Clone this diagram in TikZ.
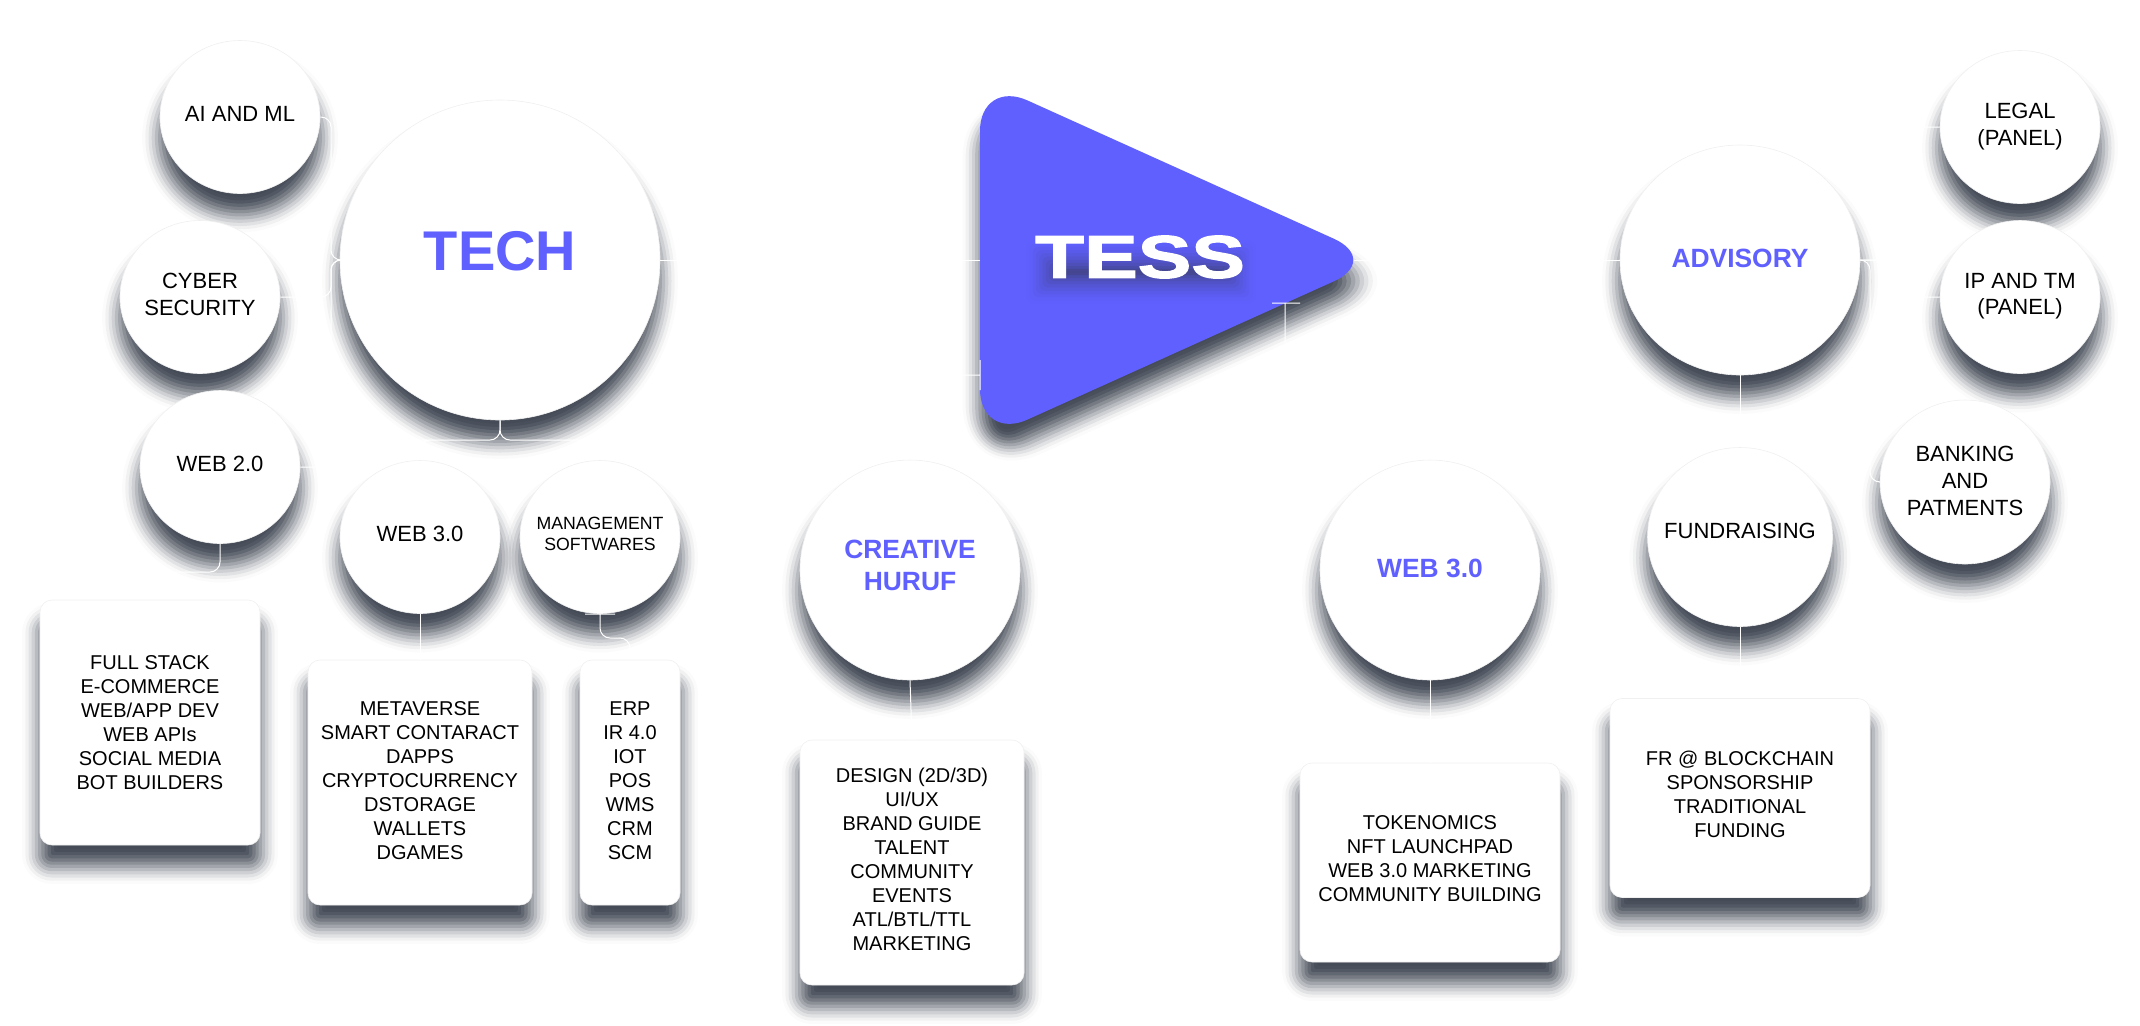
\documentclass[tikz,border=0pt]{standalone}
\usepackage{fontspec}
\setmainfont{Liberation Sans}
\newfontfamily\tessfont[FakeStretch=1.34,FakeBold=2.2]{Liberation Sans Bold}
\usetikzlibrary{calc, backgrounds, shapes.geometric}
\definecolor{tessblue}{HTML}{6060FF}
\definecolor{slate}{HTML}{353C49}
\newcommand{\blursteps}{8.8/0.0181, 7.2/0.051, 5.6/0.0811, 4/0.1106, 2.4/0.1413, 0.8/0.1742, -0.8/0.2109, -2.4/0.2525, -4/0.2976, -5.6/0.3375, -7.2/0.3381, -8.8/0.1845}
\tikzset{
bubble/.style n args={2}{ellipse, fill=white, draw=black!6, line width=0.3pt, inner sep=-12pt, minimum width=#1, minimum height=#2, align=center, text depth=3pt},
smallbubble/.style={bubble={80pt}{76.5pt}, font=\fontsize{11}{13.4}\selectfont},
headbubble/.style={bubble={#1}{#1}, text=tessblue, font=\bfseries\fontsize{13.2}{16}\selectfont},
listbox/.style={rectangle, rounded corners=6pt, fill=white, draw=black!6, line width=0.3pt, inner sep=0pt, align=center, text depth=3pt, font=\fontsize{10}{12}\selectfont},
wire/.style={draw=white, line width=0.5pt, rounded corners=5pt},
}
\begin{document}
\begin{tikzpicture}[x=0.5pt,y=-0.5pt]
\useasboundingbox (0,0) rectangle (2140,1025);
% triangle
\coordinate (tessleft) at (980,260);
\coordinate (tessright) at (1354,260);
\coordinate (tesslow) at (1285,303);
\coordinate (tessback) at (980,375);
\path[fill=tessblue, rounded corners=26pt] (980,79) -- (1381,260) -- (980,441) -- cycle;
\foreach \d/\a in \blursteps {
  \pgfmathsetmacro{\glow}{\a*0.42}
  \fill[slate, opacity=\glow, rounded corners=3pt] ({1044-2*\d},{258-2*\d}) rectangle ({1238+2*\d},{286+2*\d});
}
\node[inner sep=0pt, text=white, font=\tessfont\fontsize{30}{30}\selectfont] (tess) at (1140,257) {TESS};
% tech side
\node[bubble={160pt}{160pt}, text=tessblue, text depth=9pt, font=\bfseries\fontsize{28}{30}\selectfont] (tech) at (500,260) {TECH};
\node[smallbubble] (aiml) at (240,117) {AI AND ML};
\node[smallbubble] (cyber) at (200,297) {CYBER\\SECURITY};
\node[smallbubble] (webtwo) at (220,467) {WEB 2.0};
\node[smallbubble] (webthree) at (420,537) {WEB 3.0};
\node[smallbubble, font=\fontsize{8.85}{10.5}\selectfont] (mgmt) at (600,537) {MANAGEMENT\\SOFTWARES};
\node[listbox, text depth=0pt, minimum width=110pt, minimum height=122.5pt] (fullstack) at (150,722.5) {FULL STACK\\E-COMMERCE\\WEB/APP DEV\\WEB APIs\\SOCIAL MEDIA\\BOT BUILDERS};
\node[listbox, text depth=1.6pt, minimum width=112pt, minimum height=122.5pt] (metaverse) at (420,782.5) {METAVERSE\\SMART CONTARACT\\DAPPS\\CRYPTOCURRENCY\\DSTORAGE\\WALLETS\\DGAMES};
\node[listbox, text depth=1.6pt, minimum width=50pt, minimum height=122.5pt] (erp) at (630,782.5) {ERP\\IR 4.0\\IOT\\POS\\WMS\\CRM\\SCM};
% creative and web 3.0
\node[headbubble=110pt, text depth=4.5pt] (creative) at (910,570) {CREATIVE\\HURUF};
\node[listbox, minimum width=112pt, minimum height=122.5pt] (design) at (912,862.5) {DESIGN (2D/3D)\\UI/UX\\BRAND GUIDE\\TALENT\\COMMUNITY\\EVENTS\\ATL/BTL/TTL\\MARKETING};
\node[headbubble=110pt, text depth=1.5pt] (webmain) at (1430,570) {WEB 3.0};
\node[listbox, text depth=4pt, minimum width=130pt, minimum height=99.5pt] (tokens) at (1430,862.5) {TOKENOMICS\\NFT LAUNCHPAD\\WEB 3.0 MARKETING\\COMMUNITY BUILDING};
% advisory side
\node[bubble={120pt}{115pt}, text=tessblue, text depth=2pt, font=\bfseries\fontsize{13.2}{16}\selectfont] (advisory) at (1740,260) {ADVISORY};
\node[smallbubble] (legal) at (2020,127) {LEGAL\\(PANEL)};
\node[smallbubble] (iptm) at (2020,297) {IP AND TM\\(PANEL)};
\node[smallbubble, minimum width=85pt, minimum height=82pt, text depth=1pt] (banking) at (1965,482) {BANKING\\AND\\PATMENTS};
\node[smallbubble, minimum width=92.5pt, minimum height=89.5pt, text depth=6pt] (fund) at (1740,537) {FUNDRAISING};
\node[listbox, text depth=4pt, minimum width=130pt, minimum height=99.5pt] (frlist) at (1740,798) {FR @ BLOCKCHAIN\\SPONSORSHIP\\TRADITIONAL\\FUNDING};
% soft shadows
\begin{scope}[on background layer]
\foreach \d/\a in \blursteps {
  \fill[slate, opacity=\a, rounded corners={(26+2*\d)*1pt}] ({980-2*\d},{100-3.1*\d}) -- ({1381+4.86*\d},281) -- ({980-2*\d},{462+3.1*\d}) -- cycle;
  \foreach \nm in {tech,aiml,cyber,webtwo,webthree,mgmt,creative,webmain,advisory,legal,iptm,banking,fund}
    \fill[slate, opacity=\a] let \p1=($(\nm.east)-(\nm.center)$), \p2=($(\nm.north)-(\nm.center)$) in ([yshift=-10.5pt]\nm.center) ellipse [x radius=\x1+\d*1pt, y radius=\y2+\d*1pt];
  \pgfmathsetmacro{\rr}{max(1,6+\d)}
  \foreach \nm in {fullstack,metaverse,erp,design,tokens,frlist}
    \fill[slate, opacity=\a, rounded corners=\rr pt] ([xshift=-\d*1pt, yshift=-\d*1pt-10.5pt]\nm.south west) rectangle ([xshift=\d*1pt, yshift=\d*1pt-10.5pt]\nm.north east);
}
\end{scope}
% wires
\draw[wire] (tessleft) -- (tech.east);
\draw[wire] (tessright) -- (advisory.west);
\draw[wire] (aiml.east) -| (331,260) -- (tech.west);
\draw[wire] (cyber.east) -| (331,260) -- (tech.west);
\draw[wire] (webtwo.east) -| (331,260) -- (tech.west);
\draw[wire] (tech.south) |- (430,440) -| (webthree.north);
\draw[wire] (tech.south) |- (600,440) -- (mgmt.north);
\draw[wire] (webtwo.south) |- (150,572) -- (fullstack.north);
\draw[wire] (webthree.south) -- (metaverse.north);
\draw[wire] (585,614) -- (615,614) (mgmt.south) |- (630,638) -- (erp.north);
\draw[wire] (creative.south) -- (design.north);
\draw[wire] (webmain.south) -- (tokens.north);
\draw[wire] (fund.south) -- (frlist.north);
\draw[wire] (advisory.south) -- (fund.north);
\draw[wire] (advisory.east) -| (1900,127) -- (legal.west);
\draw[wire] (advisory.east) -| (1900,297) -- (iptm.west);
\draw[wire] (advisory.east) -| (1870,482) -- (banking.west);
\draw[wire] (980,360) -- (980,390) (tessback) -| (creative.north);
\draw[wire] (1272,303) -- (1300,303) (tesslow) |- (1430,400) -- (webmain.north);
\end{tikzpicture}
\end{document}
